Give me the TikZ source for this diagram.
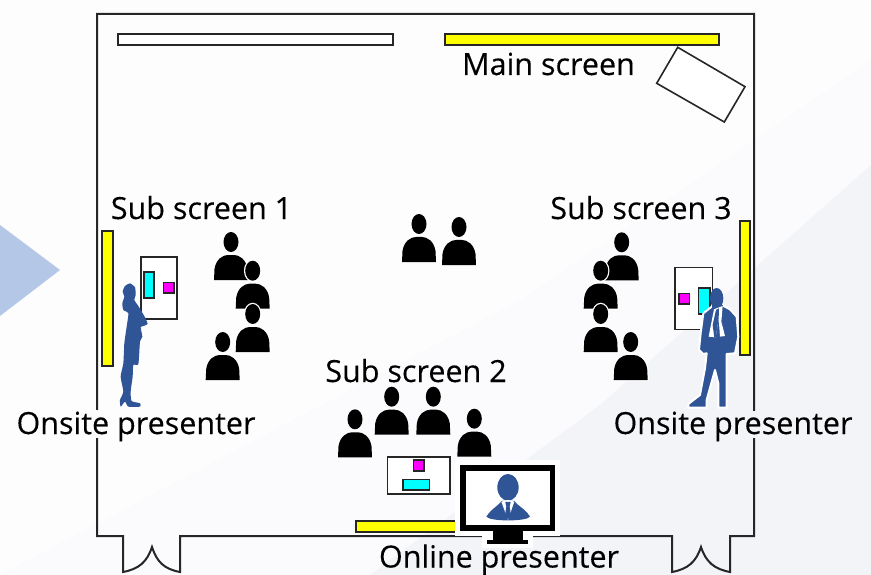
\documentclass[tikz,border=0pt]{standalone}
\usepackage{fontspec}
\setmainfont[FakeBold=0.25]{Open Sans}
\definecolor{bgbase}{HTML}{FBFBFD}
\definecolor{bgpale}{HTML}{F2F4F8}
\definecolor{arrowblue}{HTML}{B4C7E7}
\definecolor{figblue}{HTML}{2F5597}
\definecolor{scryellow}{HTML}{FFFF00}
\definecolor{notecyan}{HTML}{00FFFF}
\definecolor{notemag}{HTML}{FF00FF}
\tikzset{
  wall/.style={draw=black!85,line width=2pt,line join=miter},
  scr/.style={draw=black!85,line width=1.8pt},
  note/.style={draw=black!85,line width=1.6pt},
  lbl/.style={font=\fontsize{30.5pt}{33pt}\selectfont,text=black,inner sep=0pt,anchor=base},
  person/.pic={
    \fill[black] (-17,0) -- (-16.5,-11) .. controls (-15,-21) and (-8,-25) .. (-3,-25) -- (3,-25) .. controls (8,-25) and (15,-21) .. (16.5,-11) -- (17,0) -- cycle;
    \fill[black] (0,-38) ellipse [x radius=7.5,y radius=10];
  },
  haloperson/.pic={
    \draw[white,line width=2.5pt,line join=round] (-17,0) -- (-16.5,-11) .. controls (-15,-21) and (-8,-25) .. (-3,-25) -- (3,-25) .. controls (8,-25) and (15,-21) .. (16.5,-11) -- (17,0) -- cycle;
    \draw[white,line width=2.5pt] (0,-38) ellipse [x radius=7.5,y radius=10];
    \fill[black] (-17,0) -- (-16.5,-11) .. controls (-15,-21) and (-8,-25) .. (-3,-25) -- (3,-25) .. controls (8,-25) and (15,-21) .. (16.5,-11) -- (17,0) -- cycle;
    \fill[black] (0,-38) ellipse [x radius=7.5,y radius=10];
  }
}
\begin{document}
\begin{tikzpicture}[x=1pt,y=-1pt]
\useasboundingbox (0,0) rectangle (871,575);
% background
\fill[bgbase] (0,0) rectangle (871,575);
\fill[white!60!bgbase] (0,0) -- (871,0) -- (871,60) -- (520,300) -- (0,575) -- cycle;
\fill[bgpale] (370,575) -- (600,405) -- (871,165) -- (871,575) -- cycle;
\fill[arrowblue] (0,225) -- (60,270) -- (0,316) -- cycle;
% room
\draw[wall] (123,536) -- (97,536) -- (97,14) -- (754,14) -- (754,536) -- (730,536) -- (730,572)
  .. controls (714,569) and (706,562) .. (701,547)
  .. controls (696,562) and (688,569) .. (672,572) -- (672,536) -- (180,536) -- (180,572)
  .. controls (164,569) and (157,562) .. (152,547)
  .. controls (147,562) and (139,569) .. (123,572) -- cycle;
% label halos
\fill[bgbase] (90,410) rectangle (104,438);
\fill[bgpale] (748,411) rectangle (760,438);
% screens
\draw[scr,fill=white] (118,34) rectangle (393,45);
\draw[scr,fill=scryellow] (445,34) rectangle (719,45);
\draw[scr,fill=scryellow] (102,231) rectangle (113,366);
\draw[scr,fill=scryellow] (740,221) rectangle (750,355);
\draw[scr,fill=scryellow] (356,521) rectangle (460,532);
\draw[note,fill=white] (677.7,47.3) -- (745,86.7) -- (724.3,122) -- (656.7,83.3) -- cycle;
% boards
\draw[note,fill=white] (141,257) rectangle (177,319);
\draw[note,fill=notecyan] (144,272) rectangle (154,298);
\draw[note,fill=notemag] (163.5,282.5) rectangle (174,293);
\draw[note,fill=white] (675,267.3) rectangle (712.3,329.3);
\draw[note,fill=notemag] (678.7,293.3) rectangle (689.3,304);
\draw[note,fill=notecyan] (698.3,287.7) rectangle (710,314);
\draw[note,fill=white] (387.3,456.7) rectangle (450,493.7);
\draw[note,fill=notemag] (413.3,460) rectangle (424,470.7);
\draw[note,fill=notecyan] (402.7,479.3) rectangle (429.3,490);
% audience
\pic at (231,280) {person};
\pic at (252.7,308.7) {haloperson};
\pic at (252.7,352) {haloperson};
\pic at (222.7,380) {person};
\pic at (621.7,280.3) {person};
\pic at (600.7,308.7) {haloperson};
\pic at (600.7,352) {haloperson};
\pic at (630.7,380) {haloperson};
\pic at (419,262) {person};
\pic at (459,265) {person};
\pic at (355,457.3) {person};
\pic at (391.7,434.7) {person};
\pic at (433.3,434.7) {person};
\pic at (474.3,456.7) {person};
% woman presenter
\begin{scope}[shift={(90,200)},x=0.3333pt,y=-0.3333pt]
\fill[figblue] plot[smooth cycle,tension=0.35] coordinates {(120,250) (135,262) (137,285) (133,300) (145,318) (158,340) (165,352) (173,372) (160,378) (152,382) (157,410) (150,425) (145,492) (130,495) (128,530) (122,575) (125,603) (150,610) (150,620) (115,620) (105,605) (92,620) (90,600) (100,575) (92,530) (100,490) (103,430) (110,380) (115,340) (100,330) (97,310) (103,290) (98,275) (105,258)};
\end{scope}
% man presenter
\begin{scope}[shift={(570,210)},x=0.3333pt,y=-0.3333pt]
\draw[white,line width=2pt,fill=figblue,line join=round] (425,290) -- (400,310) -- (392,370) -- (387,420) -- (400,432) -- (410,430) -- (405,475) -- (390,555) -- (355,582) -- (355,593) -- (410,593) -- (410,570) -- (435,480) -- (445,520) -- (445,593) -- (470,593) -- (470,570) -- (470,432) -- (495,430) -- (505,380) -- (500,320) -- (480,298) -- (455,285) -- cycle;
\fill[figblue] (440,265) ellipse [x radius=20,y radius=31];
\fill[figblue] (425,285) rectangle (458,305);
\fill[white] (432,298) -- (416,380) -- (437,382) -- (446,325) -- (450,380) -- (465,378) -- (454,335) -- (458,288) -- cycle;
\fill[figblue] (438,300) -- (428,345) -- (433,382) -- (437,382) -- (446,325) -- (447,295) -- cycle;
\end{scope}
% online presenter monitor
\begin{scope}[shift={(330,400)},x=0.3333pt,y=-0.3333pt]
\fill[white] (375,180) rectangle (690,408);
\fill[white] (455,400) rectangle (610,444);
\fill[black] (390,196) rectangle (675,392);
\fill[white] (407,212) rectangle (660,376);
\fill[black] (490,392) rectangle (578,420);
\fill[black] (472,420) rectangle (595,432);
\fill[figblue] (534,262) ellipse [x radius=32,y radius=40];
\fill[figblue] (469,350) .. controls (485,325) and (505,318) .. (515,303) -- (553,303) .. controls (563,318) and (585,325) .. (600,350) .. controls (590,365) and (480,365) .. (469,350) -- cycle;
\fill[white] (514,305) -- (534,360) -- (553,305) -- (534,300) -- cycle;
\fill[figblue] (526,306) -- (542,306) -- (539,320) -- (543,345) -- (534,358) -- (525,345) -- (529,320) -- cycle;
\end{scope}
% labels
\node[lbl] (mainlbl) at (548.5,75) {Main screen};
\node[lbl] (sub1lbl) at (201.5,219) {Sub screen 1};
\node[lbl] (sub3lbl) at (641,219) {Sub screen 3};
\node[lbl] (sub2lbl) at (416,382) {Sub screen 2};
\node[lbl] (onsite1) at (136,434) {Onsite presenter};
\node[lbl] (onsite2) at (733,434) {Onsite presenter};
\node[lbl] (onlinelbl) at (499,567.5) {Online presenter};
\end{tikzpicture}
\end{document}
